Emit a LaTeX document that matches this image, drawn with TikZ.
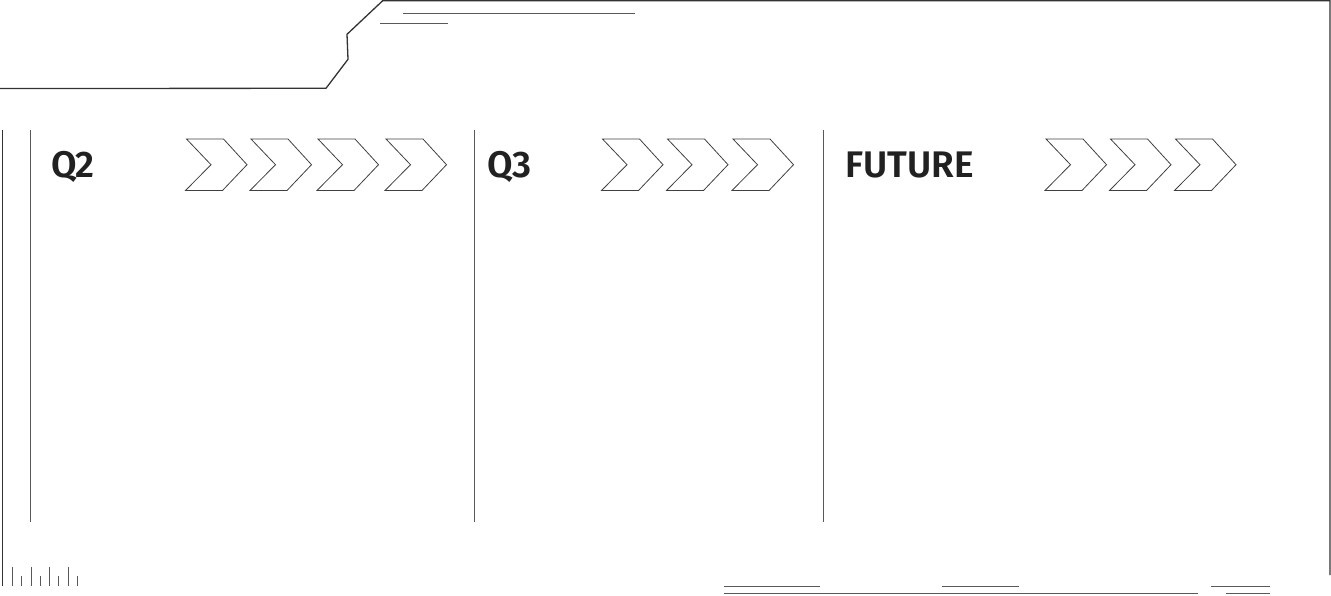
\documentclass[tikz,border=0pt]{standalone}
\usepackage{fontspec}
\setmainfont{Fira Sans}[BoldFont={Fira Sans SemiBold}]
\newcommand\coltop{130}
\newcommand\colbot{522}

\begin{document}
\begin{tikzpicture}[x=1pt, y=-1pt,
    frame/.style={draw=black!80, line width=1.3pt},
    rule/.style={draw=black!65, line width=1.1pt},
    chev/.style={draw=black!75, line width=0.8pt, line join=miter},
    head/.style={anchor=base west, inner sep=0pt, text=black!87, font=\fontsize{37}{37}\selectfont\bfseries}]
\useasboundingbox (0,0) rectangle (1331,595);

    %outer frame with the notch at the top
    \draw [frame] (0,88.5) -- (326,88.3) -- (348,59.3) -- (347,34.3) -- (382.6,0.8) -- (1330,0.8) -- (1330,575);
    \draw [frame] (2.8,\coltop) -- (2.8,585.7);

    %underlines at the top
    \draw [rule] (403,13.3) -- (635,13.3);
    \draw [rule] (380,23.3) -- (448,23.3);

    %column separators
    \draw [rule, line width=0.9pt] (30.7,\coltop) -- (30.7,\colbot);
    \draw [rule, line width=0.9pt] (474,\coltop) -- (474,\colbot);
    \draw [rule, line width=0.9pt] (823,\coltop) -- (823,\colbot);

    %headings
    \node at (51,177) [head] (q2) {Q2};
    \node at (487,177) [head] (q3) {Q3};
    \node at (845,177) [head] (future) {FUTURE};

    %chevrons
    \foreach \cx in {186.5,251,318,386, 602.5,667.5,733, 1046,1110.5,1175.5}
      \draw [chev] (\cx,139) -- ++(37,0) -- ++(23.5,25.7) -- ++(-24.5,25.8) -- ++(-37,0) -- ++(25.5,-25.8) -- cycle;

    %ruler ticks bottom left
    \foreach \tx in {12.3,31.3,49.3,68.3}
      \draw [rule, line width=0.9pt] (\tx,567) -- (\tx,585.7);
    \foreach \tx in {21.3,40.3,58.3,77.3}
      \draw [rule, line width=0.9pt] (\tx,576) -- (\tx,585.7);

    %lines bottom right
    \draw [rule] (724,586.7) -- (820,586.7);
    \draw [rule] (942,586.7) -- (1019,586.7);
    \draw [rule] (1211,586.7) -- (1270,586.7);
    \draw [rule] (724,593.8) -- (1198,593.8);
    \draw [rule] (1226,593.8) -- (1270,593.8);
\end{tikzpicture}
\end{document}
